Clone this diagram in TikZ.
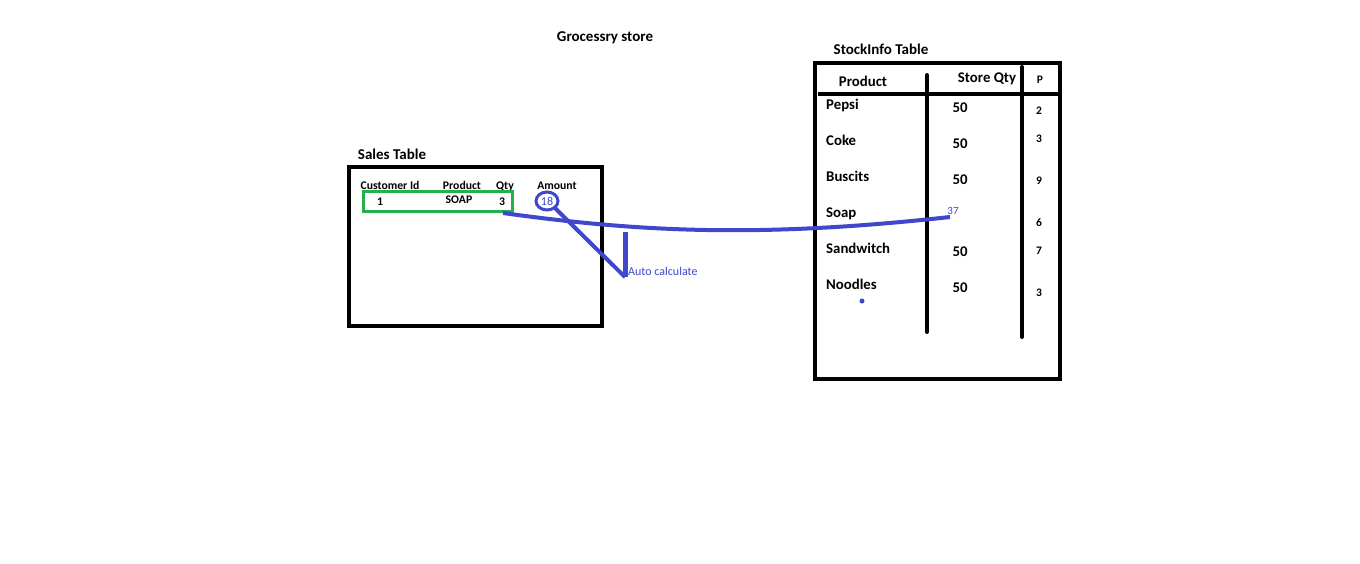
\documentclass[tikz,border=0pt]{standalone}
\usepackage{fontspec}
\setmainfont{Carlito}
\usetikzlibrary{positioning}
\definecolor{paintblue}{HTML}{3F48CC}
\definecolor{paintgreen}{HTML}{22B14C}

\begin{document}
\begin{tikzpicture}[x=1pt,y=-1pt,
title/.style ={font=\bfseries\fontsize{15}{17}\selectfont, inner sep=0pt, anchor=base},
head/.style ={font=\bfseries\fontsize{11.7}{13}\selectfont, inner sep=0pt, anchor=base},
cell/.style ={font=\bfseries\fontsize{14.8}{17}\selectfont, inner sep=0pt, anchor=base},
small/.style ={font=\bfseries\fontsize{11.5}{13}\selectfont, inner sep=0pt, anchor=base},
note/.style ={font=\fontsize{12}{14}\selectfont, text=paintblue, inner sep=0pt},
frame/.style ={draw, line width=4pt},
pen/.style ={draw=paintblue, line width=4pt}]
\useasboundingbox[fill=white] (0,0) rectangle (1360,563);
\node[title] (store) at (605,41) {Grocessry store};
% Sales table
\node[title] (salest) at (392,159) {Sales Table};
\draw[frame] (349,167) rectangle (602,326);
\node[head] (cid) at (390,189) {Customer Id};
\node[head] (sprod) at (462,189) {Product};
\node[head] (sqty) at (505,189) {Qty};
\node[head] (samt) at (557,189) {Amount};
\draw[draw=paintgreen, line width=3pt] (363,191) rectangle (512,211);
\node[head] (cidv) at (380,205) {1};
\node[head] (sprodv) at (459,203) {SOAP};
\node[head] (sqtyv) at (502,205) {3};
\node[note] (amt) at (547,201) {18};
\draw[pen, line width=3pt] (amt) ellipse (11 and 9);
\coordinate (calctop) at (625,232);
\coordinate (calcfoot) at (625,277);
\node[note, anchor=west] (calc) at (628,271) {Auto calculate};
% StockInfo table
\node[title] (stockt) at (881,54) {StockInfo Table};
\draw[frame] (815,63) rectangle (1060,379);
\draw[line width=4pt] (818,94) -- (1060,94);
\draw[line width=4pt, line cap=round] (927,75) -- (927,332);
\draw[line width=4pt, line cap=round] (1022,67) -- (1022,337);
\node[cell] (hprod) at (863,86) {Product};
\node[cell] (hqty) at (987,82) {Store Qty};
\node[small] (hp) at (1040,83) {P};
\foreach \name/\y/\q/\qy/\p/\py in {Pepsi/109/50/112/2/114, Coke/145/50/148/3/142, Buscits/181/50/184/9/184, Soap/217/{}/216/6/226, Sandwitch/253/50/256/7/254, Noodles/289/50/292/3/296}{
  \node[cell, anchor=base west] (p\name) at (826,\y) {\name};
  \node[cell] (q\name) at (960,\qy) {\q};
  \node[small] (c\name) at (1039,\py) {\p};
}
\node[note, font=\fontsize{11}{13}\selectfont] (soapqty) at (953,211) {37};
\fill[paintblue] (862,301) circle (2.5);
% blue pen marks
\draw[pen] (503,213) .. controls (640,232) and (760,238) .. (950,217);
\draw[pen] (amt.south east) ++(1,2) -- (calcfoot);
\draw[pen, line width=5pt] (calctop) -- (calcfoot);
\end{tikzpicture}
\end{document}
